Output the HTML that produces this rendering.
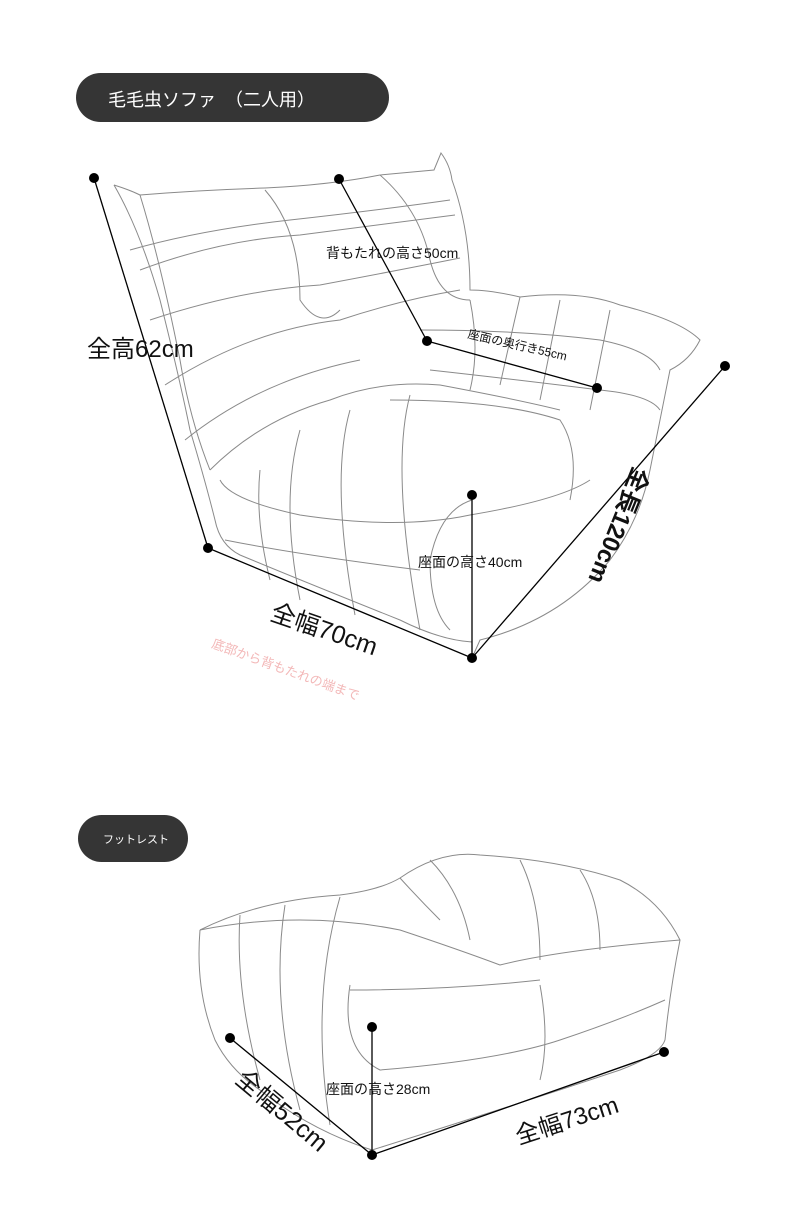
<!DOCTYPE html>
<html><head><meta charset="utf-8"><style>
html,body{margin:0;padding:0;background:#fff}
body{width:790px;height:1205px;position:relative;overflow:hidden;font-family:"Liberation Sans","Noto Sans CJK JP",sans-serif}
.pill{position:absolute;background:#353535;color:#fff;border-radius:26px}
.t{position:absolute;color:#111;white-space:nowrap;transform-origin:0 0}
</style></head><body>
<div class="pill" style="left:76px;top:73px;width:313px;height:49px;"><span style="position:absolute;left:32px;top:13px;font-size:18px;">毛毛虫ソファ　（二人用）</span></div>
<div class="pill" style="left:78px;top:815px;width:110px;height:47px;"><span style="position:absolute;left:25px;top:16px;font-size:11px;">フットレスト</span></div>

<svg width="790" height="1205" style="position:absolute;left:0;top:0" fill="none">
<g stroke="#8a8a8a" stroke-width="1">
<path d="M114 185 Q130 190 140 195 Q200 190 265 188 Q330 185 380 175 L434 170 L441 153 Q450 165 452 180 Q470 230 470 290 Q490 290 520 297 Q580 290 620 305 Q680 320 700 340 Q690 360 670 370 Q660 420 650 470 Q640 520 610 560 Q560 620 480 640 L472 658"/>
<path d="M114 185 Q140 230 160 300 Q180 380 190 430 Q205 480 215 520 Q220 545 240 555 Q300 580 400 620 Q440 640 472 642"/>
<path d="M140 195 Q160 260 180 360 Q190 420 210 470"/>
<path d="M130 250 Q200 230 290 220 Q380 210 450 200"/>
<path d="M140 270 Q220 240 300 235 Q380 225 455 215"/>
<path d="M150 320 Q240 290 320 285 Q400 270 460 258"/>
<path d="M165 385 Q250 330 340 320 Q400 300 460 290"/>
<path d="M185 440 Q260 380 360 360"/>
<path d="M210 470 Q260 420 330 400 Q380 380 440 385 Q520 400 560 410"/>
<path d="M265 190 Q300 230 300 300 Q320 330 340 310"/>
<path d="M380 175 Q420 210 430 260 Q440 300 470 300"/>
<path d="M220 480 Q230 500 300 515 Q400 530 470 515 Q560 500 590 480"/>
<path d="M225 540 Q300 555 420 570"/>
<path d="M260 470 Q255 520 270 580"/>
<path d="M300 430 Q280 500 300 600"/>
<path d="M350 410 Q330 480 355 615"/>
<path d="M410 395 Q390 470 420 630"/>
<path d="M390 400 Q500 400 560 420 Q580 450 570 500"/>
<path d="M420 330 Q520 330 600 340 Q650 350 660 370"/>
<path d="M430 370 Q520 380 600 390 Q650 395 660 410"/>
<path d="M470 300 Q480 350 470 390 M520 297 Q510 340 500 385 M560 300 Q550 350 540 400 M610 310 Q600 360 590 410"/>
<path d="M472 500 Q440 510 430 560 Q430 610 450 630"/>
<path d="M200 930 Q260 900 340 895 Q380 890 400 878 Q440 850 480 855 Q560 860 620 880 Q660 900 680 940 Q670 990 665 1040"/>
<path d="M200 930 Q195 990 215 1040 Q230 1070 260 1090 Q310 1130 372 1150 Q500 1110 620 1070 Q660 1055 665 1040"/>
<path d="M200 930 Q300 910 400 930 Q460 950 500 965 Q560 950 680 940"/>
<path d="M240 915 Q235 990 260 1080 M285 905 Q270 1000 300 1110 M340 897 Q310 1000 330 1125"/>
<path d="M350 985 Q340 1050 380 1070 Q500 1060 560 1040 Q620 1020 665 1000"/>
<path d="M350 990 Q450 990 540 980"/>
<path d="M400 878 Q420 900 440 920 M430 860 Q460 890 470 940 M520 860 Q540 900 540 960 M580 870 Q600 900 600 950"/>
<path d="M540 985 Q550 1040 540 1080"/>
</g>
<g stroke="#000" stroke-width="1.3">
<line x1="94" y1="178" x2="208" y2="548"/>
<line x1="208" y1="548" x2="472" y2="658"/>
<line x1="472" y1="658" x2="725" y2="366"/>
<line x1="339" y1="179" x2="427" y2="341"/>
<line x1="427" y1="341" x2="597" y2="388"/>
<line x1="472" y1="495" x2="472" y2="658"/>
<line x1="230" y1="1038" x2="372" y2="1155"/>
<line x1="372" y1="1155" x2="664" y2="1052"/>
<line x1="372" y1="1027" x2="372" y2="1155"/>
</g>
<g fill="#000">
<circle cx="94" cy="178" r="5"/><circle cx="208" cy="548" r="5"/><circle cx="472" cy="658" r="5"/><circle cx="725" cy="366" r="5"/>
<circle cx="339" cy="179" r="5"/><circle cx="427" cy="341" r="5"/><circle cx="597" cy="388" r="5"/><circle cx="472" cy="495" r="5"/>
<circle cx="230" cy="1038" r="5"/><circle cx="372" cy="1155" r="5"/><circle cx="664" cy="1052" r="5"/><circle cx="372" cy="1027" r="5"/>
</g>
</svg>

<div class="t" style="left:87px;top:329px;font-size:24px;">全高62cm</div>
<div class="t" style="left:326px;top:243px;font-size:14px;">背もたれの高さ50cm</div>
<div class="t" style="left:470px;top:325px;font-size:12px;transform:rotate(13deg);">座面の奥行き55cm</div>
<div class="t" style="left:418px;top:552px;font-size:14px;">座面の高さ40cm</div>
<div class="t" style="left:278px;top:593px;font-size:25px;transform:rotate(19deg);">全幅70cm</div>
<div class="t" style="left:660px;top:476px;font-size:24px;font-weight:bold;transform:rotate(112deg);">全長120cm</div>
<div class="t" style="left:216px;top:633px;font-size:13px;color:#f3b8b8;transform:rotate(20deg);">底部から背もたれの端まで</div>
<div class="t" style="left:326px;top:1079px;font-size:14px;">座面の高さ28cm</div>
<div class="t" style="left:252px;top:1060px;font-size:25px;transform:rotate(40deg);">全幅52cm</div>
<div class="t" style="left:510px;top:1118px;font-size:24px;transform:rotate(-18deg);">全幅73cm</div>
</body></html>
